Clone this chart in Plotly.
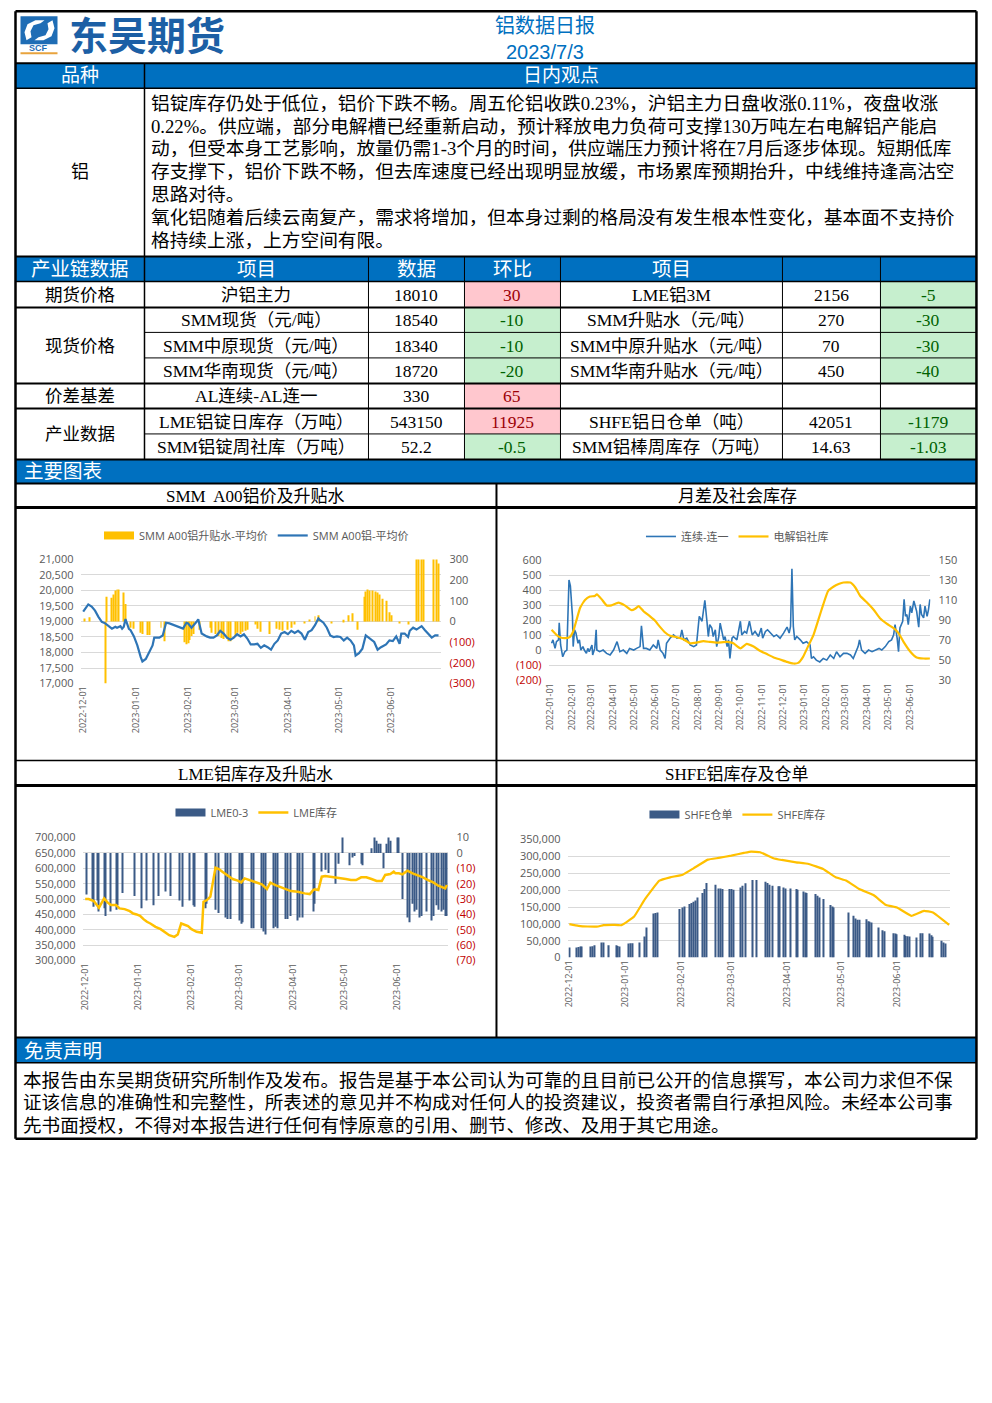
import plotly.graph_objects as go

W, H = 992, 1403
# measured placement of the figure in the photographed page: shown = A + S * figure_px
SX, AX = 0.994, 5.5
SY, AY = 0.989, 7.7
CJK = "Noto Sans CJK SC"
SANS = "Liberation Sans, Noto Sans CJK SC"
SERIF = "Liberation Serif, Noto Sans CJK SC"
TICKF = "Open Sans, Noto Sans CJK SC"
BLUE = "#0070C0"
GRAY = "#595959"
RED = "#C00000"

# ---------------- data ----------------
# chart 1: SMM A00 price (left) and premium (right)
c1_price_dates = ["2022-12-01","2022-12-04","2022-12-06","2022-12-08","2022-12-10","2022-12-12","2022-12-14","2022-12-16","2022-12-18","2022-12-20","2022-12-21","2022-12-23","2022-12-24","2022-12-25","2022-12-26","2022-12-28","2022-12-29","2022-12-31","2023-01-02","2023-01-04","2023-01-05","2023-01-07","2023-01-09","2023-01-11","2023-01-12","2023-01-15","2023-01-17","2023-01-19","2023-01-21","2023-01-24","2023-01-27","2023-01-29","2023-01-31","2023-02-01","2023-02-03","2023-02-05","2023-02-06","2023-02-07","2023-02-09","2023-02-12","2023-02-14","2023-02-16","2023-02-18","2023-02-20","2023-02-22","2023-02-24","2023-02-26","2023-02-28","2023-03-02","2023-03-04","2023-03-06","2023-03-08","2023-03-10","2023-03-12","2023-03-14","2023-03-16","2023-03-18","2023-03-20","2023-03-22","2023-03-24","2023-03-26","2023-03-28","2023-03-30","2023-04-01","2023-04-03","2023-04-05","2023-04-07","2023-04-09","2023-04-11","2023-04-13","2023-04-15","2023-04-17","2023-04-19","2023-04-20","2023-04-22","2023-04-24","2023-04-26","2023-04-28","2023-04-30","2023-05-02","2023-05-04","2023-05-06","2023-05-08","2023-05-10","2023-05-11","2023-05-13","2023-05-15","2023-05-17","2023-05-20","2023-05-22","2023-05-24","2023-05-26","2023-05-29","2023-05-31","2023-06-02","2023-06-04","2023-06-06","2023-06-07","2023-06-09","2023-06-11","2023-06-12","2023-06-14","2023-06-16","2023-06-19","2023-06-21","2023-06-23","2023-06-25","2023-06-27","2023-06-29"]
c1_price = [19320,19550,19480,19350,19150,18990,18940,18850,18770,18830,18800,18850,18770,18830,19080,18760,18720,18520,18230,17850,17710,17790,18010,18230,18480,18480,18550,18960,18940,18880,18830,18770,18960,18940,18800,18910,18990,19070,18610,18520,18480,18480,18550,18700,18610,18480,18410,18480,18590,18520,18590,18450,18260,18260,18280,18150,18230,18170,18090,18280,18390,18610,18660,18590,18700,18630,18700,18610,18410,18660,18720,18880,19100,19040,18960,18800,18550,18500,18520,18500,18390,18480,18390,18230,17900,17980,18120,18550,18440,18340,18090,18170,18260,18390,18370,18520,18280,18610,18610,18500,18700,18800,18740,18850,18720,18610,18480,18550,18550]
c1_prem_dates = ["2022-12-02","2022-12-05","2022-12-14","2022-12-15","2022-12-18","2022-12-19","2022-12-20","2022-12-21","2022-12-22","2022-12-25","2022-12-26","2022-12-29","2022-12-31","2023-01-04","2023-01-05","2023-01-08","2023-01-09","2023-01-16","2023-01-18","2023-01-30","2023-01-31","2023-02-01","2023-02-02","2023-02-03","2023-02-04","2023-02-08","2023-02-14","2023-02-15","2023-02-17","2023-02-19","2023-02-21","2023-02-22","2023-02-24","2023-02-25","2023-02-26","2023-03-01","2023-03-02","2023-03-04","2023-03-05","2023-03-07","2023-03-08","2023-03-13","2023-03-14","2023-03-16","2023-03-21","2023-03-25","2023-03-27","2023-03-29","2023-04-01","2023-04-03","2023-04-05","2023-04-11","2023-04-14","2023-04-17","2023-04-19","2023-04-27","2023-05-04","2023-05-07","2023-05-09","2023-05-12","2023-05-16","2023-05-17","2023-05-18","2023-05-19","2023-05-21","2023-05-23","2023-05-24","2023-05-25","2023-05-27","2023-05-29","2023-05-31","2023-06-01","2023-06-06","2023-06-11","2023-06-16","2023-06-17","2023-06-19","2023-06-20","2023-06-26","2023-06-28","2023-06-29"]
c1_prem = [15,20,-300,120,115,130,150,155,155,140,85,-30,-35,-55,-60,-65,-65,-30,-95,-100,-110,-105,-90,-70,-60,-40,-30,-55,-60,-70,-80,-85,-85,-95,-95,-70,-55,-60,-50,-45,-40,-15,-35,-50,-60,-35,-40,-45,-40,-30,-15,-10,10,25,30,-8,8,30,40,-40,120,145,155,150,150,145,140,130,110,100,45,30,-10,-15,330,330,330,330,330,330,280]

# chart 2: spread (left) and social inventory (right)
c2_spread_dates = ["2022-01-03","2022-01-05","2022-01-08","2022-01-10","2022-01-13","2022-01-14","2022-01-16","2022-01-19","2022-01-22","2022-01-25","2022-01-28","2022-01-30","2022-02-02","2022-02-03","2022-02-05","2022-02-07","2022-02-10","2022-02-12","2022-02-14","2022-02-17","2022-02-19","2022-02-22","2022-02-24","2022-02-26","2022-03-02","2022-03-03","2022-03-06","2022-03-08","2022-03-09","2022-03-13","2022-03-18","2022-03-23","2022-03-28","2022-04-02","2022-04-07","2022-04-11","2022-04-16","2022-04-21","2022-04-25","2022-05-01","2022-05-05","2022-05-10","2022-05-12","2022-05-15","2022-05-19","2022-05-24","2022-05-29","2022-06-03","2022-06-05","2022-06-08","2022-06-12","2022-06-15","2022-06-17","2022-06-22","2022-06-27","2022-07-02","2022-07-07","2022-07-09","2022-07-12","2022-07-16","2022-07-21","2022-07-26","2022-07-30","2022-08-03","2022-08-07","2022-08-09","2022-08-11","2022-08-14","2022-08-16","2022-08-18","2022-08-21","2022-08-23","2022-08-26","2022-08-28","2022-08-31","2022-09-02","2022-09-04","2022-09-07","2022-09-09","2022-09-12","2022-09-14","2022-09-16","2022-09-19","2022-09-21","2022-09-26","2022-10-01","2022-10-03","2022-10-07","2022-10-10","2022-10-14","2022-10-18","2022-10-22","2022-10-27","2022-10-31","2022-11-02","2022-11-06","2022-11-09","2022-11-13","2022-11-18","2022-11-22","2022-11-27","2022-12-02","2022-12-07","2022-12-10","2022-12-12","2022-12-14","2022-12-16","2022-12-18","2022-12-21","2022-12-26","2022-12-30","2023-01-04","2023-01-09","2023-01-11","2023-01-14","2023-01-18","2023-01-23","2023-01-28","2023-02-02","2023-02-07","2023-02-12","2023-02-16","2023-02-21","2023-02-26","2023-03-03","2023-03-08","2023-03-12","2023-03-15","2023-03-19","2023-03-21","2023-03-24","2023-03-29","2023-04-03","2023-04-08","2023-04-13","2023-04-18","2023-04-22","2023-04-27","2023-05-02","2023-05-06","2023-05-09","2023-05-11","2023-05-14","2023-05-16","2023-05-18","2023-05-22","2023-05-24","2023-05-26","2023-05-28","2023-05-30","2023-06-02","2023-06-04","2023-06-07","2023-06-09","2023-06-11","2023-06-14","2023-06-16","2023-06-18","2023-06-21","2023-06-23","2023-06-26","2023-06-28","2023-06-30"]
c2_spread = [48,71,14,59,71,185,37,-42,-8,3,470,431,228,26,138,116,48,71,3,26,3,-19,14,-8,37,-30,14,138,3,-8,3,-19,-30,3,59,-8,3,-19,14,3,14,26,165,14,14,3,37,14,71,3,-19,-53,48,82,104,82,89,138,71,82,37,26,37,228,195,251,335,195,93,172,150,93,138,26,93,183,127,71,93,26,71,-53,82,93,71,195,104,127,116,195,104,127,93,150,82,127,138,116,93,104,82,116,156,116,161,545,161,71,93,71,48,59,37,-53,-42,-64,-76,-53,-64,-30,-53,-8,-42,-19,-19,-30,-53,-19,26,71,3,-19,3,-8,3,14,3,26,59,71,104,172,82,-8,150,195,341,228,240,172,296,251,330,285,262,156,307,240,217,296,228,273,341]
c2_stock_dates = ["2022-01-03","2022-01-10","2022-01-15","2022-01-22","2022-01-29","2022-02-03","2022-02-08","2022-02-13","2022-02-20","2022-02-27","2022-03-06","2022-03-09","2022-03-16","2022-03-23","2022-03-30","2022-04-09","2022-04-18","2022-04-28","2022-05-03","2022-05-08","2022-05-15","2022-05-24","2022-05-31","2022-06-07","2022-06-15","2022-06-22","2022-07-02","2022-07-11","2022-07-21","2022-07-30","2022-08-09","2022-08-18","2022-08-28","2022-09-12","2022-09-21","2022-10-01","2022-10-10","2022-10-20","2022-10-29","2022-11-08","2022-11-18","2022-11-27","2022-12-07","2022-12-16","2022-12-23","2022-12-30","2023-01-06","2023-01-14","2023-01-21","2023-01-28","2023-02-04","2023-02-12","2023-02-19","2023-02-26","2023-03-08","2023-03-15","2023-03-22","2023-03-31","2023-04-10","2023-04-19","2023-04-29","2023-05-09","2023-05-16","2023-05-23","2023-06-02","2023-06-11","2023-06-21","2023-06-30"]
c2_stock = [80.7,75.7,73.3,72.3,73.3,79.0,90.9,102.7,110.5,113.9,114.5,116.2,111.1,105.1,105.1,107.8,105.1,100.3,101.7,104.4,99.3,94.3,90.2,84.1,78.0,74.7,73.3,71.3,67.2,67.9,69.3,68.6,67.9,68.6,67.2,62.2,66.6,63.9,59.8,56.4,53.0,51.0,48.6,47.0,47.6,53.7,63.9,75.7,90.9,106.1,119.6,124.0,126.4,128.0,128.0,123.0,114.5,108.4,101.0,92.6,86.8,82.4,77.4,68.9,58.8,53.0,52.0,52.0]

# chart 3: LME stock (left) and LME 0-3 (right)
c3_stock_dates = ["2022-12-01","2022-12-03","2022-12-06","2022-12-09","2022-12-12","2022-12-14","2022-12-16","2022-12-19","2022-12-21","2022-12-24","2022-12-27","2022-12-29","2022-12-31","2023-01-02","2023-01-04","2023-01-06","2023-01-08","2023-01-11","2023-01-14","2023-01-16","2023-01-19","2023-01-22","2023-01-24","2023-01-26","2023-01-28","2023-01-30","2023-02-01","2023-02-04","2023-02-07","2023-02-08","2023-02-10","2023-02-12","2023-02-15","2023-02-17","2023-02-19","2023-02-22","2023-02-25","2023-02-28","2023-03-02","2023-03-04","2023-03-07","2023-03-11","2023-03-14","2023-03-17","2023-03-19","2023-03-22","2023-03-25","2023-03-28","2023-03-31","2023-04-04","2023-04-08","2023-04-11","2023-04-13","2023-04-14","2023-04-16","2023-04-18","2023-04-20","2023-04-23","2023-04-26","2023-04-29","2023-05-02","2023-05-05","2023-05-08","2023-05-11","2023-05-14","2023-05-17","2023-05-20","2023-05-23","2023-05-25","2023-05-28","2023-05-30","2023-05-31","2023-06-02","2023-06-04","2023-06-07","2023-06-10","2023-06-13","2023-06-16","2023-06-19","2023-06-22","2023-06-25","2023-06-27","2023-06-29","2023-06-30"]
c3_stock = [500000,500000,493500,471800,502200,489100,480400,480400,469600,467400,460900,453100,450000,445600,434800,426100,420600,409800,402200,393500,382600,377200,384800,420600,415200,411900,402200,393500,390200,491300,496700,507600,602200,597800,589100,576100,565200,559800,554300,567400,561900,554300,547800,532600,553300,545600,538000,532600,526100,523900,518500,516300,529300,531500,529300,572800,575000,572800,569600,569600,565200,561900,561900,570700,570700,565200,558700,558700,578300,581500,589100,583700,583700,580400,592400,583700,578300,570700,561900,554300,543500,540200,534800,545600]
c3_spread_dates = ["2022-12-02","2022-12-05","2022-12-06","2022-12-08","2022-12-09","2022-12-12","2022-12-13","2022-12-16","2022-12-19","2022-12-20","2022-12-23","2022-12-30","2023-01-03","2023-01-06","2023-01-10","2023-01-13","2023-01-17","2023-01-20","2023-01-25","2023-01-27","2023-01-31","2023-02-02","2023-02-03","2023-02-09","2023-02-10","2023-02-15","2023-02-17","2023-02-21","2023-02-22","2023-02-24","2023-03-01","2023-03-02","2023-03-03","2023-03-08","2023-03-09","2023-03-14","2023-03-15","2023-03-16","2023-03-21","2023-03-22","2023-03-23","2023-03-28","2023-03-29","2023-03-31","2023-04-04","2023-04-05","2023-04-07","2023-04-13","2023-04-14","2023-04-18","2023-04-20","2023-04-22","2023-04-26","2023-04-28","2023-04-30","2023-05-04","2023-05-06","2023-05-07","2023-05-11","2023-05-12","2023-05-17","2023-05-19","2023-05-20","2023-05-21","2023-05-22","2023-05-24","2023-05-26","2023-05-27","2023-05-28","2023-06-01","2023-06-02","2023-06-04","2023-06-07","2023-06-08","2023-06-10","2023-06-11","2023-06-12","2023-06-14","2023-06-15","2023-06-18","2023-06-21","2023-06-22","2023-06-24","2023-06-25","2023-06-27","2023-06-28","2023-06-29","2023-06-30"]
c3_spread = [-27,-30,-35,-31,-38,-36,-41,-38,-37,-34,-26,-28,-36,-31,-34,-28,-25,-28,-31,-35,-31,-34,-35,-36,-33,-37,-39,-42,-43,-43,-44,-46,-45,-49,-49,-49,-51,-53,-49,-48,-49,-43,-43,-41,-44,-42,-42,-38,-33,-12,-11,-13,-20,-7,12,-8,-3,-2,-7,-8,3,12,8,6,6,-10,6,12,8,12,12,-30,-42,-45,-33,-38,-37,-42,-41,-38,-44,-41,-34,-37,-38,-37,-41,-41]

# chart 4: SHFE warrants (bars) and SHFE stock (line)
c4_stock_dates = ["2022-12-01","2022-12-06","2022-12-11","2022-12-17","2022-12-20","2022-12-25","2022-12-30","2023-01-06","2023-01-12","2023-01-20","2023-01-26","2023-02-02","2023-02-08","2023-02-16","2023-02-22","2023-03-01","2023-03-08","2023-03-12","2023-03-17","2023-03-24","2023-03-29","2023-04-06","2023-04-13","2023-04-21","2023-04-28","2023-05-04","2023-05-11","2023-05-19","2023-05-26","2023-06-01","2023-06-09","2023-06-16","2023-06-21","2023-06-30"]
c4_stock = [99150,94200,92200,92200,96200,97200,96200,122000,173500,228000,238000,245900,264700,290500,295500,302400,310300,314300,312300,295500,289500,282600,277600,262700,238000,228000,203300,185400,155700,148700,123900,138800,133900,97200]
c4_warr_dates = ["2022-12-01","2022-12-05","2022-12-06","2022-12-07","2022-12-08","2022-12-13","2022-12-14","2022-12-15","2022-12-19","2022-12-20","2022-12-23","2022-12-27","2022-12-28","2022-12-29","2023-01-03","2023-01-04","2023-01-05","2023-01-09","2023-01-12","2023-01-13","2023-01-17","2023-01-18","2023-01-19","2023-01-31","2023-02-02","2023-02-03","2023-02-06","2023-02-07","2023-02-08","2023-02-09","2023-02-10","2023-02-13","2023-02-14","2023-02-15","2023-02-20","2023-02-22","2023-02-23","2023-02-24","2023-02-28","2023-03-01","2023-03-02","2023-03-06","2023-03-07","2023-03-09","2023-03-13","2023-03-15","2023-03-20","2023-03-21","2023-03-22","2023-03-24","2023-03-27","2023-03-28","2023-03-30","2023-03-31","2023-04-03","2023-04-06","2023-04-07","2023-04-10","2023-04-11","2023-04-12","2023-04-17","2023-04-18","2023-04-19","2023-04-21","2023-04-25","2023-04-26","2023-04-27","2023-05-05","2023-05-08","2023-05-09","2023-05-10","2023-05-11","2023-05-15","2023-05-16","2023-05-17","2023-05-18","2023-05-22","2023-05-24","2023-05-25","2023-05-30","2023-05-31","2023-06-01","2023-06-05","2023-06-06","2023-06-07","2023-06-08","2023-06-12","2023-06-14","2023-06-15","2023-06-19","2023-06-20","2023-06-21","2023-06-26","2023-06-27","2023-06-28"]
c4_warr = [29700,29700,31700,32700,32700,32700,33700,36700,44600,44600,36700,36700,34700,32700,41600,42600,42600,44600,62500,89200,130900,131900,133900,143800,148700,151700,158600,161600,165600,169500,178500,191400,203300,221100,216100,205200,205200,203300,203300,203300,201300,208200,213200,220100,230000,230000,225100,221100,216100,213200,211200,211200,208200,205200,205200,203300,201300,196300,193300,191400,188400,183400,178500,173500,155700,151700,148700,133900,123900,116000,112000,112000,114000,108100,106100,104100,89200,81300,78300,72400,71400,69400,67400,64400,63500,62500,59500,72400,72400,71400,66400,61500,49600,44600,41600]

# table
tbl_rows = [
    ["沪铝主力", "18010", "30", "LME铝3M", "2156", "-5"],
    ["SMM现货（元/吨）", "18540", "-10", "SMM升贴水（元/吨）", "270", "-30"],
    ["SMM中原现货（元/吨）", "18340", "-10", "SMM中原升贴水（元/吨）", "70", "-30"],
    ["SMM华南现货（元/吨）", "18720", "-20", "SMM华南升贴水（元/吨）", "450", "-40"],
    ["AL连续-AL连一", "330", "65", "", "", ""],
    ["LME铝锭日库存（万吨）", "543150", "11925", "SHFE铝日仓单（吨）", "42051", "-1179"],
    ["SMM铝锭周社库（万吨）", "52.2", "-0.5", "SMM铝棒周库存（万吨）", "14.63", "-1.03"],
]
tbl_groups = [("期货价格", 0, 1), ("现货价格", 1, 4), ("价差基差", 4, 5), ("产业数据", 5, 7)]
tbl_head = ["产业链数据", "项目", "数据", "环比", "项目", "", ""]

view_lines = [
    "铝锭库存仍处于低位，铝价下跌不畅。周五伦铝收跌0.23%，沪铝主力日盘收涨0.11%，夜盘收涨",
    "0.22%。供应端，部分电解槽已经重新启动，预计释放电力负荷可支撑130万吨左右电解铝产能启",
    "动，但受本身工艺影响，放量仍需1-3个月的时间，供应端压力预计将在7月后逐步体现。短期低库",
    "存支撑下，铝价下跌不畅，但去库速度已经出现明显放缓，市场累库预期抬升，中线维持逢高沽空",
    "思路对待。",
    "氧化铝随着后续云南复产，需求将增加，但本身过剩的格局没有发生根本性变化，基本面不支持价",
    "格持续上涨，上方空间有限。",
]
disc_lines = [
    "本报告由东吴期货研究所制作及发布。报告是基于本公司认为可靠的且目前已公开的信息撰写，本公司力求但不保",
    "证该信息的准确性和完整性，所表述的意见并不构成对任何人的投资建议，投资者需自行承担风险。未经本公司事",
    "先书面授权，不得对本报告进行任何有悖原意的引用、删节、修改、及用于其它用途。",
]

# ---------------- helpers (page pixel -> paper fraction) ----------------
def X(p):
    return ((p - AX) / SX) / W

def Y(p):
    return 1 - ((p - AY) / SY) / H

shapes = []
annos = []

def rect(x0, y0, x1, y1, fill, layer="below"):
    shapes.append(dict(type="rect", xref="paper", yref="paper", x0=X(x0), x1=X(x1),
                       y0=Y(y1), y1=Y(y0), fillcolor=fill, line=dict(width=0), layer=layer))

def hline(y, x0=15, x1=976, w=1, color="black"):
    shapes.append(dict(type="line", xref="paper", yref="paper", x0=X(x0), x1=X(x1),
                       y0=Y(y), y1=Y(y), line=dict(color=color, width=w)))

def vline(x, y0, y1, w=1, color="black"):
    shapes.append(dict(type="line", xref="paper", yref="paper", x0=X(x), x1=X(x),
                       y0=Y(y0), y1=Y(y1), line=dict(color=color, width=w)))

def txt(x, y, s, size=18, color="black", fam=SERIF, xa="center", weight="normal"):
    annos.append(dict(x=X(x), y=Y(y), xref="paper", yref="paper", text=s, showarrow=False,
                      xanchor=xa, yanchor="middle",
                      font=dict(size=size, color=color, family=fam, weight=weight)))

def neg_label(v, fmt="{:,}"):
    if v < 0:
        return '<span style="color:%s">(%s)</span>' % (RED, fmt.format(-v))
    return fmt.format(v)

# ---------------- page frame ----------------
for y0, y1 in [(63, 88), (256, 281), (459, 483), (1037, 1062)]:
    rect(15, y0, 976, y1, BLUE)

row_b = [281, 307, 332, 357.5, 383, 408, 433.5, 459]
PINK, PINK_T = "#FFC7CE", "#9C0006"
GREEN, GREEN_T = "#C6EFCE", "#006100"
for i, r in enumerate(tbl_rows):
    y0, y1 = row_b[i], row_b[i + 1]
    if r[2]:
        rect(464, y0, 560, y1, GREEN if r[2].startswith("-") else PINK)
    if r[5]:
        rect(880, y0, 976, y1, GREEN if r[5].startswith("-") else PINK)

hline(63, w=2)
hline(88, w=1.5)
hline(256, w=2)
hline(281, w=1.5)
hline(307, w=2)
hline(332, x0=144, w=1)
hline(357.5, x0=144, w=1)
hline(383, w=2)
hline(408, w=2)
hline(433.5, x0=144, w=1)
hline(459, w=2)
hline(483, w=2)
hline(507, w=3)
hline(760, w=1.5)
hline(785, w=3)
hline(1037, w=2)
hline(1062, w=1.5)
vline(144, 63, 459, w=1.5)
for xv in [368, 464, 560, 782, 880]:
    vline(xv, 256, 459, w=1)
vline(496, 483, 1037, w=2)
hline(11, w=2.5)
hline(1138, w=2.5)
vline(15, 11, 1138, w=2.5)
vline(976, 11, 1138, w=2.5)

# ---------------- header ----------------
def path_px(pts):
    s = "M %f,%f " % (X(pts[0][0]), Y(pts[0][1]))
    for p in pts[1:]:
        s += "L %f,%f " % (X(p[0]), Y(p[1]))
    return s + "Z"

shapes.append(dict(type="rect", xref="paper", yref="paper", x0=X(20), x1=X(57), y0=Y(44), y1=Y(16),
                   fillcolor="#1F6DB5", line=dict(width=0)))
shapes.append(dict(type="path", xref="paper", yref="paper",
                   path=path_px([(26, 40), (24, 32), (27, 24), (35, 20), (44, 20), (40, 23), (33, 25), (30, 31), (31, 37)]),
                   fillcolor="white", line=dict(width=0)))
shapes.append(dict(type="path", xref="paper", yref="paper",
                   path=path_px([(52, 20), (54, 28), (51, 36), (43, 40), (34, 40), (38, 37), (45, 35), (48, 29), (47, 23)]),
                   fillcolor="white", line=dict(width=0)))
shapes.append(dict(type="rect", xref="paper", yref="paper", x0=X(20), x1=X(57), y0=Y(54), y1=Y(52),
                   fillcolor="#E8A33D", line=dict(width=0)))
txt(38.5, 48, "<b>SCF</b>", size=9, color="#1F6DB5", fam="Liberation Sans")
txt(147, 36, "<b>东吴期货</b>", size=39, color="#1C5FA5", fam=SANS)
txt(545, 26, "铝数据日报", size=20, color=BLUE, fam=SANS)
txt(545, 51.5, "2023/7/3", size=20, color=BLUE, fam="Liberation Sans Narrow, Liberation Sans")

txt(80, 75.5, "品种", size=19, color="white", fam=SANS)
txt(561, 75.5, "日内观点", size=19, color="white", fam=SANS)
txt(80, 172, "铝", size=18, fam=SERIF)
for i, line in enumerate(view_lines):
    txt(149, 103 + i * 22.8, line, size=18.7, fam=SERIF, xa="left")

head_x = [80, 256, 416, 512, 671, 831, 928]
for hx, ht in zip(head_x, tbl_head):
    if ht:
        txt(hx, 268.5, ht, size=19.5, color="white", fam=SANS)
for i, r in enumerate(tbl_rows):
    yc = (row_b[i] + row_b[i + 1]) / 2 + 0.5
    txt(256, yc, r[0], size=17.5)
    txt(416, yc, r[1], size=17.5)
    if r[2]:
        txt(512, yc, r[2], size=17.5, color=GREEN_T if r[2].startswith("-") else PINK_T)
    txt(671, yc, r[3], size=17.5)
    txt(831, yc, r[4], size=17.5)
    if r[5]:
        txt(928, yc, r[5], size=17.5, color=GREEN_T if r[5].startswith("-") else PINK_T)
for name, a, b in tbl_groups:
    txt(80, (row_b[a] + row_b[b]) / 2 + 0.5, name, size=17.5)

txt(22, 471, "主要图表", size=19.5, color="white", fam=SANS, xa="left")
txt(255, 496, "SMM  A00铝价及升贴水", size=17, fam=SERIF)
txt(737, 496, "月差及社会库存", size=17, fam=SERIF)
txt(255, 774, "LME铝库存及升贴水", size=17, fam=SERIF)
txt(737, 774, "SHFE铝库存及仓单", size=17, fam=SERIF)
txt(22, 1050, "免责声明", size=19.5, color="white", fam=SANS, xa="left")
for i, line in enumerate(disc_lines):
    txt(21, 1080 + i * 22.2, line, size=18.6, fam=SERIF, xa="left")

# ---------------- charts ----------------
fig = go.Figure()
YELLOW = "#FFC000"
LBLUE = "#2E75B6"
NAVY = "#3B5A86"
DAY = 86400000

def legend_patch(name, color, legend):
    # legend-only entry drawn as a wide rectangle (Excel style)
    return go.Scatter(x=[None], y=[None], mode="lines", name=name, line=dict(color=color, width=8),
                      legend=legend, xaxis="x", yaxis="y")

fig.add_trace(go.Bar(x=c1_prem_dates, y=c1_prem, name="SMM A00铝升贴水-平均价", marker_color=YELLOW,
                     marker_line_width=0, width=DAY * 0.55, xaxis="x", yaxis="y", showlegend=False))
fig.add_trace(legend_patch("SMM A00铝升贴水-平均价", YELLOW, "legend"))
fig.add_trace(go.Scatter(x=c1_price_dates, y=c1_price, name="SMM A00铝-平均价", mode="lines",
                         line=dict(color=LBLUE, width=2.2), xaxis="x", yaxis="y2", legend="legend"))

fig.add_trace(go.Scatter(x=c2_spread_dates, y=c2_spread, name="连续-连一", mode="lines",
                         line=dict(color=LBLUE, width=1.6), xaxis="x2", yaxis="y3", legend="legend2"))
fig.add_trace(go.Scatter(x=c2_stock_dates, y=c2_stock, name="电解铝社库", mode="lines",
                         line=dict(color=YELLOW, width=2.2, shape="spline", smoothing=0.4),
                         xaxis="x2", yaxis="y4", legend="legend2"))

fig.add_trace(go.Bar(x=c3_spread_dates, y=c3_spread, name="LME0-3", marker_color=NAVY,
                     marker_line_width=0, width=DAY * 0.6, xaxis="x3", yaxis="y5", showlegend=False))
fig.add_trace(legend_patch("LME0-3", NAVY, "legend3"))
fig.add_trace(go.Scatter(x=c3_stock_dates, y=c3_stock, name="LME库存", mode="lines",
                         line=dict(color=YELLOW, width=2.5), xaxis="x3", yaxis="y6", legend="legend3"))

fig.add_trace(go.Bar(x=c4_warr_dates, y=c4_warr, name="SHFE仓单", marker_color=NAVY,
                     marker_line_width=0, width=DAY * 0.65, xaxis="x4", yaxis="y7", showlegend=False))
fig.add_trace(legend_patch("SHFE仓单", NAVY, "legend4"))
fig.add_trace(go.Scatter(x=c4_stock_dates, y=c4_stock, name="SHFE库存", mode="lines",
                         line=dict(color=YELLOW, width=2.2, shape="spline", smoothing=0.3),
                         xaxis="x4", yaxis="y7", legend="legend4"))

tickfont = dict(family=TICKF, size=11, color=GRAY)
xtickfont = dict(family=TICKF, size=9, color=GRAY)

def xax(x0, x1, anchor, rng, tick0):
    return dict(domain=[X(x0), X(x1)], anchor=anchor, type="date", range=rng, tick0=tick0,
                dtick="M1", tickformat="%Y-%m-%d", tickangle=-90, tickfont=xtickfont,
                showgrid=False, zeroline=False, showline=False, ticks="", fixedrange=True)

def yax(y0, y1, rng, vals, texts, side, grid, anchor, overlay=None):
    d = dict(domain=[Y(y1), Y(y0)], range=rng, tickvals=vals, ticktext=texts, side=side,
             showgrid=grid, gridcolor="#D9D9D9", gridwidth=1, zeroline=False, showline=False,
             ticks="", tickfont=tickfont, anchor=anchor, ticklabelstandoff=7, fixedrange=True)
    if overlay:
        d["overlaying"] = overlay
    return d

c1_left = list(range(17000, 21001, 500))
c1_right = list(range(-300, 301, 100))
c2_left = list(range(-200, 601, 100))
c2_right = list(range(30, 151, 20))
c3_left = list(range(300000, 700001, 50000))
c3_right = list(range(-70, 11, 10))
c4_left = list(range(0, 350001, 50000))

layout = dict(
    width=W, height=H, margin=dict(l=0, r=0, t=0, b=0),
    paper_bgcolor="white", plot_bgcolor="rgba(0,0,0,0)",
    shapes=shapes, annotations=annos, barmode="overlay", hovermode=False,
    xaxis=xax(81, 441, "y", ["2022-11-30", "2023-06-30 18:00"], "2022-12-01"),
    yaxis=yax(559, 683, [-300, 300], c1_right, [neg_label(v) for v in c1_right], "right", False, "x"),
    yaxis2=yax(559, 683, [17000, 21000], c1_left, ["{:,}".format(v) for v in c1_left], "left", True, "x", "y"),
    xaxis2=xax(549, 930, "y3", ["2021-12-31", "2023-06-30 20:00"], "2022-01-01"),
    yaxis3=yax(560, 680, [-200, 600], c2_left, [neg_label(v) for v in c2_left], "left", True, "x2"),
    yaxis4=yax(560, 680, [30, 150], c2_right, [str(v) for v in c2_right], "right", False, "x2", "y3"),
    xaxis3=xax(83, 448, "y5", ["2022-11-30", "2023-06-30 22:00"], "2022-12-01"),
    yaxis5=yax(837, 960, [-70, 10], c3_right, [neg_label(v) for v in c3_right], "right", False, "x3"),
    yaxis6=yax(837, 960, [300000, 700000], c3_left, ["{:,}".format(v) for v in c3_left], "left", True, "x3", "y5"),
    xaxis4=xax(568, 950, "y7", ["2022-11-30 12:00", "2023-06-30 18:00"], "2022-12-01"),
    yaxis7=yax(839, 957, [0, 350000], c4_left, ["{:,}".format(v) for v in c4_left], "left", True, "x4"),
)
legfont = dict(family=TICKF, size=11, color=GRAY)
for key, xc, yc in [("legend", 256, 535), ("legend2", 737, 536), ("legend3", 256, 812), ("legend4", 737, 814)]:
    layout[key] = dict(x=X(xc), y=Y(yc), xanchor="center", yanchor="middle", orientation="h",
                       font=legfont, bgcolor="rgba(0,0,0,0)", itemwidth=30, tracegroupgap=0,
                       traceorder="normal")
fig.update_layout(**layout)
fig.write_html("out.html")
